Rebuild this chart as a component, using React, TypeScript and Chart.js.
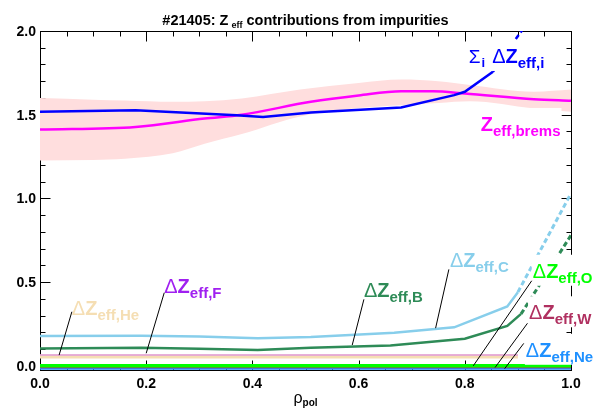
import React, { useEffect, useRef } from 'react';
import { Chart, registerables } from 'chart.js';
Chart.register(...registerables);

const SANS = '"Liberation Sans", Arial, Helvetica, sans-serif';

// axis ranges and tick labels
const X_MIN = 0;
const X_MAX = 1;
const Y_MIN = -0.025;
const Y_MAX = 2.0;
const xTickLabels = ['0.0', '0.2', '0.4', '0.6', '0.8', '1.0'];
const yTickLabels = ['0.0', '0.5', '1.0', '1.5', '2.0'];

// Z_eff from bremsstrahlung with uncertainty band
const bandRho = [0, 0.1, 0.16, 0.25, 0.31, 0.38, 0.49, 0.6, 0.68, 0.75, 0.81, 0.93, 1.0];
const bandUpper = [1.6, 1.59, 1.585, 1.577, 1.58, 1.597, 1.65, 1.69, 1.71, 1.7, 1.677, 1.637, 1.65];
const bandLower = [1.227, 1.23, 1.237, 1.27, 1.327, 1.385, 1.49, 1.54, 1.557, 1.57, 1.58, 1.537, 1.517];
const bremsRho = [0, 0.18, 0.31, 0.38, 0.51, 0.6, 0.68, 0.74, 0.8, 0.93, 1.0];
const bremsZ = [1.411, 1.427, 1.477, 1.5, 1.577, 1.615, 1.64, 1.64, 1.627, 1.593, 1.583];

// sum of impurity contributions
const sumRho = [0, 0.18, 0.37, 0.42, 0.51, 0.68, 0.78, 0.8, 0.853];
const sumZ = [1.517, 1.527, 1.497, 1.487, 1.513, 1.543, 1.617, 1.637, 1.756];
const sumEdgeRho = [0.853, 0.9, 1.0];
const sumEdgeZ = [1.756, 1.97, 2.4];

// carbon
const cRho = [0, 0.19, 0.3, 0.41, 0.51, 0.667, 0.78, 0.88, 0.9];
const cZ = [0.178, 0.18, 0.175, 0.164, 0.172, 0.198, 0.23, 0.355, 0.44];
const cEdgeRho = [0.9, 1.0];
const cEdgeZ = [0.44, 1.03];

// boron
const bRho = [0, 0.19, 0.3, 0.41, 0.51, 0.66, 0.8, 0.88, 0.906];
const bZ = [0.104, 0.108, 0.102, 0.094, 0.108, 0.122, 0.162, 0.238, 0.31];
const bEdgeRho = [0.906, 1.0];
const bEdgeZ = [0.31, 0.78];

// small contributions
const heRho = [0, 0.9];
const heZ = [0.055, 0.055];
const fRho = [0, 0.9];
const fZ = [0.064, 0.064];
const oRho = [0, 1.0];
const oZ = [0.0, 0.0];
const wRho = [0, 1.0];
const wZ = [-0.009, -0.009];
const neRho = [0, 1.0];
const neZ = [-0.017, -0.017];

const pts = (xs: number[], ys: number[]) => xs.map((x, i) => ({ x, y: ys[i] }));

type Part = { t: string; f: string; dy?: number; dx?: number };

const dz = (sub: string): Part[] => [
  { t: 'Δ', f: `20px ${SANS}` },
  { t: 'Z', f: `bold 20px ${SANS}` },
  { t: sub, f: `bold 15px ${SANS}`, dy: 5 },
];

// annotation labels: anchor (rho, value) of text baseline start, leader line ends
const labels: { color: string; at: [number, number]; parts: Part[]; leader?: [number, number, number, number] }[] = [
  {
    color: '#0000FF',
    at: [0.8075, 1.809],
    parts: [
      { t: 'Σ', f: `19px ${SANS}` },
      { t: 'i', f: `bold 13px ${SANS}`, dy: 4, dx: 1 },
      { t: 'Δ', f: `20px ${SANS}`, dx: 7 },
      { t: 'Z', f: `bold 20px ${SANS}` },
      { t: 'eff,i', f: `bold 15px ${SANS}`, dy: 5 },
    ],
  },
  {
    color: '#FF00FF',
    at: [0.83, 1.403],
    parts: [
      { t: 'Z', f: `bold 20px ${SANS}` },
      { t: 'eff,brems', f: `bold 15px ${SANS}`, dy: 5 },
    ],
  },
  { color: '#87CEEB', at: [0.772, 0.588], parts: dz('eff,C'), leader: [0.77, 0.576, 0.745, 0.225] },
  { color: '#2E8B57', at: [0.61, 0.413], parts: dz('eff,B'), leader: [0.61, 0.397, 0.588, 0.124] },
  { color: '#00FF00', at: [0.928, 0.526], parts: dz('eff,O'), leader: [0.926, 0.508, 0.816, 0.0] },
  { color: '#B03060', at: [0.921, 0.278], parts: dz('eff,W'), leader: [0.918, 0.254, 0.857, -0.01] },
  { color: '#1E90FF', at: [0.915, 0.054], parts: dz('eff,Ne'), leader: [0.911, 0.134, 0.875, -0.017] },
  { color: '#F5DEB3', at: [0.06, 0.303], parts: dz('eff,He'), leader: [0.06, 0.323, 0.036, 0.064] },
  { color: '#A020F0', at: [0.234, 0.433], parts: dz('eff,F'), leader: [0.234, 0.437, 0.2, 0.075] },
];

function drawRich(ctx: CanvasRenderingContext2D, x: number, y: number, parts: Part[], color: string, bg: boolean) {
  let cx = x;
  const pos: { x: number; w: number }[] = [];
  for (const p of parts) {
    ctx.font = p.f;
    cx += p.dx || 0;
    const w = ctx.measureText(p.t).width;
    pos.push({ x: cx, w });
    cx += w;
  }
  if (bg) {
    ctx.fillStyle = '#FFFFFF';
    ctx.fillRect(x - 1, y - 23, cx - x + 2, 31);
  }
  ctx.fillStyle = color;
  ctx.textBaseline = 'alphabetic';
  ctx.textAlign = 'left';
  parts.forEach((p, i) => {
    ctx.font = p.f;
    ctx.fillText(p.t, pos[i].x, y + (p.dy || 0));
  });
  return cx - x;
}

function line(ctx: CanvasRenderingContext2D, x1: number, y1: number, x2: number, y2: number) {
  ctx.beginPath();
  ctx.moveTo(x1, y1);
  ctx.lineTo(x2, y2);
  ctx.stroke();
}

const decor = {
  id: 'decor',
  beforeDatasetsDraw(chart: any) {
    const { ctx, chartArea: a, scales } = chart;
    const xs = scales.x;
    const ys = scales.y;
    ctx.save();
    ctx.strokeStyle = '#000';
    ctx.lineWidth = 1;
    const L = Math.round(a.left) + 0.5;
    const R = Math.round(a.right) + 0.5;
    const T = Math.round(a.top) + 0.5;
    const B = Math.round(a.bottom) + 0.5;
    ctx.strokeRect(L, T, R - L, B - T);
    // y ticks (major 0.5, minor 0.1)
    for (let k = 0; k <= 20; k++) {
      const py = Math.round(ys.getPixelForValue(k * 0.1)) + 0.5;
      const len = k % 5 === 0 ? 10 : 5;
      line(ctx, L, py, L + len, py);
      line(ctx, R, py, R - len, py);
    }
    // x ticks (major 0.2, minor 0.05)
    for (let k = 0; k <= 20; k++) {
      const px = Math.round(xs.getPixelForValue(k * 0.05)) + 0.5;
      const len = k % 4 === 0 ? 10 : 5;
      line(ctx, px, B, px, B - len);
      line(ctx, px, T, px, T + len);
    }
    ctx.fillStyle = '#000';
    ctx.font = `bold 14px ${SANS}`;
    ctx.textAlign = 'right';
    ctx.textBaseline = 'middle';
    for (const t of yTickLabels) {
      ctx.fillText(t, a.left - 4, ys.getPixelForValue(parseFloat(t)) + 1);
    }
    ctx.textAlign = 'center';
    ctx.textBaseline = 'alphabetic';
    for (const t of xTickLabels) {
      ctx.fillText(t, xs.getPixelForValue(parseFloat(t)), a.bottom + 18);
    }
    ctx.restore();
  },
  afterDatasetsDraw(chart: any) {
    const { ctx, chartArea: a, scales } = chart;
    const xs = scales.x;
    const ys = scales.y;
    ctx.save();
    for (const lb of labels) {
      drawRich(ctx, xs.getPixelForValue(lb.at[0]), ys.getPixelForValue(lb.at[1]), lb.parts, lb.color, true);
    }
    ctx.strokeStyle = '#000';
    ctx.lineWidth = 1;
    for (const lb of labels) {
      if (!lb.leader) continue;
      const [x1, y1, x2, y2] = lb.leader;
      line(ctx, xs.getPixelForValue(x1), ys.getPixelForValue(y1), xs.getPixelForValue(x2), ys.getPixelForValue(y2));
    }
    // title
    const titleParts: Part[] = [
      { t: '#21405: Z', f: `bold 14.5px ${SANS}` },
      { t: 'eff', f: `bold 9px ${SANS}`, dy: 3, dx: 3 },
      { t: ' contributions from impurities', f: `bold 14.5px ${SANS}` },
    ];
    let w = 0;
    for (const p of titleParts) {
      ctx.font = p.f;
      w += ctx.measureText(p.t).width + (p.dx || 0);
    }
    const cx = (a.left + a.right) / 2;
    drawRich(ctx, cx - w / 2, 25, titleParts, '#000', false);
    // x axis title
    const xt: Part[] = [
      { t: 'ρ', f: `16px ${SANS}` },
      { t: 'pol', f: `bold 10px ${SANS}`, dy: 3 },
    ];
    drawRich(ctx, cx - 12, 403, xt, '#000', false);
    ctx.restore();
  },
};

const line0 = (data: any, color: string, width: number, dash?: number[]) => ({
  data,
  borderColor: color,
  backgroundColor: color,
  borderWidth: width,
  borderDash: dash || [],
  pointRadius: 0,
  fill: false,
  tension: 0,
});

export default function App() {
  const ref = useRef<HTMLCanvasElement | null>(null);
  useEffect(() => {
    document.body.style.margin = '0';
    const canvas = ref.current!;
    const chart = new Chart(canvas, {
      type: 'line',
      data: {
        datasets: [
          line0(pts(oRho, oZ), '#00FF00', 3.5),
          line0(pts(wRho, wZ), '#B03060', 2),
          line0(pts(neRho, neZ), '#1E90FF', 2),
          line0(pts(sumRho, sumZ), '#0000FF', 2.5),
          line0(pts(sumEdgeRho, sumEdgeZ), '#0000FF', 2.5, [5, 3]),
          { ...line0(pts(bremsRho, bremsZ), '#FF00FF', 2.5), tension: 0.4, cubicInterpolationMode: 'monotone' },
          line0(pts(cRho, cZ), '#87CEEB', 2.5),
          line0(pts(cEdgeRho, cEdgeZ), '#87CEEB', 3, [5, 3]),
          line0(pts(bRho, bZ), '#2E8B57', 2.5),
          line0(pts(bEdgeRho, bEdgeZ), '#2E8B57', 3, [5, 3]),
          line0(pts(fRho, fZ), '#E09ADA', 1.5),
          line0(pts(heRho, heZ), '#F5DEB3', 4),
          {
            data: pts(bandRho, bandUpper),
            borderWidth: 0,
            borderColor: 'rgba(0,0,0,0)',
            backgroundColor: '#FFDEDE',
            pointRadius: 0,
            fill: '+1',
            tension: 0.4,
            cubicInterpolationMode: 'monotone',
          },
          {
            data: pts(bandRho, bandLower),
            borderWidth: 0,
            borderColor: 'rgba(0,0,0,0)',
            pointRadius: 0,
            fill: false,
            tension: 0.4,
            cubicInterpolationMode: 'monotone',
          },
        ] as any,
      },
      options: {
        responsive: false,
        animation: false,
        devicePixelRatio: 1,
        layout: { padding: { left: 40, right: 28, top: 31, bottom: 38 } },
        scales: {
          x: { type: 'linear', min: X_MIN, max: X_MAX, display: false },
          y: { type: 'linear', min: Y_MIN, max: Y_MAX, display: false },
        },
        plugins: { legend: { display: false }, title: { display: false }, tooltip: { enabled: false } },
        events: [],
      } as any,
      plugins: [decor],
    });
    return () => chart.destroy();
  }, []);
  return <canvas ref={ref} width={599} height={408} style={{ display: 'block' }} />;
}
